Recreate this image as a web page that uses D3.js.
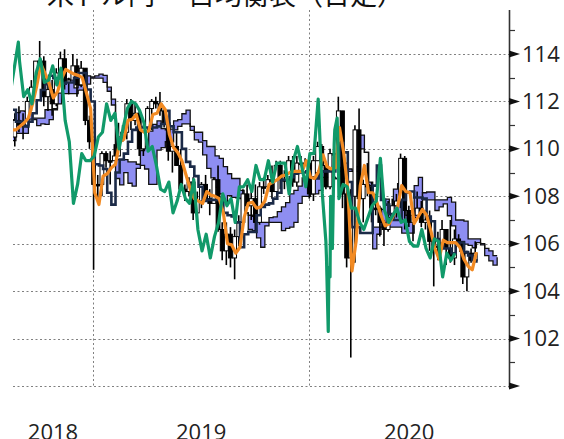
<!DOCTYPE html>
<html><head><meta charset="utf-8">
<script src="https://cdn.jsdelivr.net/npm/d3@7"></script>
<style>body{margin:0;background:#fff}svg{display:block}</style>
</head><body>
<script>
// ---- DATA (weekly, USD/JPY) ----
const titleText = "米ドル円 一目均衡表（日足）";
const yearLabels = ["2018", "2019", "2020"];
const yTickValues = [100, 102, 104, 106, 108, 110, 112, 114];
const yMinorValues = [101, 103, 105, 107, 109, 111, 113, 115];
const firstWeek = "2018-08-13";   // Monday of first candle week
const lastCloudWeek = "2020-11-09"; // Monday of last cloud week

const openV = [110.9,110.5,111.2,111.0,111.0,112.0,112.6,113.7,113.7,112.2,
 112.5,111.9,113.2,113.8,112.8,112.9,113.5,112.7,113.4,111.2,
 110.3,108.5,108.5,109.8,109.5,109.5,109.7,110.5,110.7,111.9,
 111.2,111.5,110.0,110.9,111.7,112.0,111.9,111.6,111.1,109.9,
 110.1,109.3,108.3,108.2,108.6,107.3,107.8,108.5,107.9,107.7,
 108.7,106.6,105.7,106.4,105.4,106.3,106.9,108.1,107.6,107.9,
 106.9,108.4,108.4,108.7,108.2,109.3,108.7,108.7,109.5,108.6,
 109.4,109.4,109.4,108.1,109.5,110.1,109.3,108.4,109.8,109.8,
 111.6,108.1,105.4,108.0,110.8,107.9,108.5,108.4,107.5,107.5,
 106.9,106.6,107.1,107.6,107.8,109.6,107.4,106.9,107.2,107.5,
 106.9,107.0,106.1,105.9,105.9,106.6,105.8,105.4,106.2,106.1,
 104.6,105.6,105.3];
const highV = [111.4,111.5,111.8,111.5,112.2,112.9,113.7,114.55,113.9,112.7,
 112.9,113.4,114.1,114.2,113.0,114.0,113.8,113.7,113.4,111.4,
 110.4,108.9,109.9,109.9,109.9,110.2,111.1,111.0,112.1,112.1,
 111.9,111.7,111.0,111.8,112.1,112.2,112.4,111.7,111.1,110.3,
 110.7,110.0,108.5,108.8,108.8,108.2,108.6,108.9,108.3,108.8,
 109.3,106.9,106.9,106.7,106.6,107.2,108.3,108.5,108.2,108.5,
 108.6,108.8,108.9,109.3,109.5,109.5,109.1,109.7,109.7,109.7,
 109.7,109.6,109.7,109.7,110.3,110.2,109.4,110.0,110.1,112.2,
 111.6,108.5,108.3,111.0,111.7,108.7,109.4,108.6,108.1,107.6,
 107.0,107.8,107.9,108.1,109.8,109.7,107.6,107.5,108.2,107.8,
 107.4,107.4,106.2,106.5,107.0,106.6,107.0,106.6,106.4,106.1,
 105.7,105.8,106.1];
const lowV = [110.1,110.1,110.7,110.4,110.9,111.6,112.6,113.6,111.8,111.6,
 111.4,111.8,112.9,112.5,112.3,112.9,112.2,112.6,111.0,110.0,
 104.9,107.8,108.0,109.2,108.5,109.5,109.7,110.3,110.4,110.8,
 111.0,109.7,109.7,110.8,110.8,111.7,111.4,110.9,109.5,109.0,
 109.3,108.3,107.8,108.0,107.0,106.8,107.5,107.8,107.2,107.7,
 106.5,105.3,105.1,105.0,104.5,105.9,106.9,107.5,107.0,106.5,
 106.8,108.1,108.3,107.9,108.2,108.3,108.3,108.7,108.4,108.4,
 109.3,109.3,107.9,107.8,109.5,109.2,108.3,108.3,109.6,109.8,
 107.5,105.0,101.2,105.2,107.9,106.9,108.0,106.9,107.2,106.3,
 105.9,106.5,107.0,107.1,107.5,106.6,106.7,106.1,107.2,106.7,
 106.6,105.7,104.2,105.3,105.8,105.1,105.2,105.1,105.9,104.3,
 104.0,105.2,105.3];
const closeV = [110.5,111.2,111.0,111.0,112.0,112.6,113.7,113.7,112.2,112.5,
 111.9,113.2,113.8,112.8,112.9,113.5,112.7,113.4,111.2,110.3,
 108.5,108.5,109.8,109.5,109.5,109.7,110.5,110.7,111.9,111.2,
 111.5,110.0,110.9,111.7,112.0,111.9,111.6,111.1,109.9,110.1,
 109.3,108.3,108.2,108.6,107.3,107.8,108.5,107.9,107.7,108.7,
 106.6,105.7,106.4,105.4,106.3,106.9,108.1,107.6,107.9,106.9,
 108.4,108.4,108.7,108.2,109.3,108.7,108.7,109.5,108.6,109.4,
 109.4,109.4,108.1,109.5,110.1,109.3,108.4,109.8,109.8,111.6,
 108.1,105.4,108.0,110.8,107.9,108.5,108.4,107.5,107.5,106.9,
 106.6,107.1,107.6,107.8,109.6,107.4,106.9,107.2,107.5,106.9,
 107.0,106.1,105.9,105.9,106.6,105.8,105.4,106.2,106.1,104.6,
 105.6,105.3,105.6];
// conversion line (orange)
const tenkanV = [110.8,110.8,110.95,111.1,111.3,111.9,112.65,113.58,113.18,112.75,
 112.15,112.4,112.95,113.35,113.25,113.15,113.1,113.0,112.35,111.7,
 108.15,107.65,108.85,108.95,109.2,109.35,110.3,110.4,111.2,111.25,
 111.45,110.8,110.7,110.75,111.45,111.5,111.9,111.65,110.6,110.05,
 109.85,109.5,108.9,108.3,107.9,107.8,107.7,108.2,108.05,108.0,
 107.9,107.3,106.0,105.95,105.6,105.85,107.1,107.7,107.75,107.5,
 107.55,107.8,108.5,108.6,108.7,108.85,108.9,109.0,109.05,109.05,
 109.05,109.5,108.8,108.75,109.05,109.75,109.25,109.15,109.2,110.9,
 109.85,108.3,104.85,106.1,108.45,109.3,108.15,108.15,107.75,107.2,
 106.75,106.85,107.2,107.55,108.45,108.2,108.15,106.85,107.15,107.45,
 107.2,106.55,105.8,105.35,106.15,106.05,106.05,106.05,105.85,105.35,
 105.05,104.9,105.65];
// base line (navy)
const kijunV = [111.65,111.15,111.15,110.95,111.15,111.5,112.05,112.48,112.73,113.08,
 112.98,112.98,112.75,112.8,112.8,113.0,113.2,113.2,112.5,112.0,
 109.35,109.3,109.15,108.15,107.65,109.0,109.55,109.8,110.3,110.8,
 110.9,110.9,110.9,110.9,110.9,110.95,111.05,111.6,110.95,110.7,
 110.7,110.0,109.45,109.25,108.85,108.4,107.8,107.85,107.85,107.85,
 107.9,107.3,107.2,107.15,106.9,105.85,106.4,106.5,106.5,107.2,
 107.55,107.65,107.7,107.9,108.15,108.7,108.7,108.8,108.95,109.0,
 109.0,109.05,108.8,108.75,109.05,109.05,109.05,109.05,109.3,110.25,
 109.85,108.6,106.7,106.7,106.45,106.45,106.45,108.45,109.3,107.85,
 107.65,107.25,107.0,107.0,107.85,108.15,108.2,107.95,107.95,107.9,
 107.15,106.95,106.2,106.0,105.8,105.8,105.6,106.05,106.05,105.65,
 105.5,105.3,105.2];
// leading spans (cloud), plotted weeks
const spanA = [111.23,111.53,111.6,111.58,111.53,111.23,110.98,111.05,111.03,111.23,
 111.7,112.35,113.03,112.95,112.92,112.57,112.69,112.85,113.08,113.03,
 113.08,113.15,113.1,112.43,111.85,108.75,108.48,109.0,108.55,108.43,
 109.18,109.93,110.1,110.75,111.03,111.18,110.85,110.8,110.83,111.18,
 111.23,111.48,111.63,110.78,110.38,110.28,109.75,109.18,108.78,108.38,
 108.1,107.75,108.03,107.95,107.93,107.9,107.3,106.6,106.55,106.25,
 105.85,106.75,107.1,107.13,107.35,107.55,107.73,108.1,108.25,108.43,
 108.78,108.8,108.9,109.0,109.03,109.03,109.28,108.8,108.75,109.05,
 109.4,109.15,109.1,109.25,110.58,109.85,108.45,105.78,106.4,107.45,
 107.88,107.3,108.3,108.53,107.53,107.2,107.05,107.1,107.28,108.15,
 108.18,108.18,107.4,107.55,107.68,107.18,106.75,106.0,105.68,105.98,
 105.93,105.83,106.05,105.95,105.5,105.28,105.1,105.43];
const spanB = [110.35,110.65,110.65,110.65,111.25,111.3,111.3,111.3,111.65,111.65,
 111.65,111.9,112.33,112.33,112.33,112.33,112.48,112.48,112.73,112.98,
 112.98,112.98,112.8,112.6,112.1,109.55,109.55,109.55,109.45,109.45,
 109.35,109.3,109.15,108.5,108.5,109.95,110.05,110.3,110.3,110.8,
 110.95,111.05,111.05,110.95,110.7,110.7,110.35,110.1,110.1,109.7,
 109.6,109.25,108.95,108.75,108.75,108.25,107.3,107.2,107.15,106.9,
 106.9,106.9,106.9,106.9,106.9,106.55,106.65,106.7,106.9,107.7,
 108.0,108.0,108.1,108.1,108.25,108.8,108.8,108.8,108.75,109.05,
 109.05,109.05,109.05,109.05,110.0,109.85,108.6,106.7,106.7,106.7,
 106.7,106.7,106.7,106.7,106.45,106.45,106.45,108.45,108.8,107.85,
 107.85,107.85,107.85,107.85,107.85,107.95,107.75,107.0,107.0,106.95,
 106.2,106.2,106.2,106.0,105.8,105.7,105.5,105.5];
// lagging span (green), weekly, plotted 26 days back
const chikouV = [112.6,113.7,113.7,112.2,112.5,111.9,113.2,113.8,112.8,112.9,
 113.5,112.7,113.4,111.2,110.3,107.7,108.5,109.8,109.5,109.5,
 109.7,110.5,110.7,111.9,111.2,111.5,110.0,110.9,111.7,112.0,
 111.9,111.6,111.1,109.9,110.1,109.3,108.3,108.2,108.6,107.3,
 107.8,108.5,107.9,107.7,108.7,106.6,105.7,106.4,105.4,106.3,
 106.9,108.1,107.6,107.9,106.9,108.4,108.4,108.7,108.2,109.3,
 108.7,108.7,109.5,108.6,109.4,109.4,109.4,108.1,109.5,110.1,
 109.3,108.4,109.8,109.8,112.1,108.1,105.4,108.0,110.8,107.9,
 108.5,108.4,107.5,107.5,106.9,106.6,107.1,107.6,107.8,109.6,
 107.4,106.9,107.2,107.5,106.9,107.0,106.1,105.9,105.9,106.6,
 105.8,105.4,106.2,106.1,104.6,105.6,105.3,105.6];
// extra daily lagging-span points (plot date, value)
const chikouDaily = [["2018-08-28",114.5],["2020-01-29",106.1],["2020-02-02",102.3],
 ["2020-02-03",105.0],["2020-02-05",104.6],["2020-02-09",105.8],["2020-02-12",110.2],
 ["2020-02-17",111.3],["2020-02-19",109.6]];

// ---- CHART ----
const W = 564, H = 439;
const parse = d3.timeParse("%Y-%m-%d");
const svg = d3.select("body").append("svg").attr("width", W).attr("height", H)
  .style("font-family", "'Open Sans', 'Noto Sans', sans-serif");

const x = d3.scaleTime().domain([new Date(2018,7,19), new Date(2020,11,3)]).range([13, 509]);
const y = d3.scaleLinear().domain([100, 114]).range([386, 54]);

const weeks = d3.timeMonday.range(parse(firstWeek), d3.timeDay.offset(parse(lastCloudWeek), 1));
const nC = closeV.length;
const candles = d3.range(nC).map(i => ({d: d3.timeDay.offset(weeks[i], 2), o: openV[i], h: highV[i], l: lowV[i], c: closeV[i]}));
const tenkan = d3.range(nC).map(i => ({d: d3.timeDay.offset(weeks[i], 4), v: tenkanV[i]}));
const kijun = d3.range(nC).map(i => ({d: d3.timeDay.offset(weeks[i], 4), v: kijunV[i]}));
const cloud = spanA.map((a, i) => ({d: d3.timeDay.offset(weeks[i], 4), a: a, b: spanB[i]}));
const chikou = chikouV.map((v, i) => ({d: d3.timeDay.offset(weeks[i], 3), v: v}))
  .concat(chikouDaily.map(p => ({d: parse(p[0]), v: p[1]})))
  .sort((p, q) => p.d - q.d);

// title (mostly cut off at top)
svg.append("text").attr("x", 404).attr("y", 5).attr("text-anchor", "end")
  .attr("font-family", "'Noto Sans CJK JP', sans-serif").attr("font-size", 27)
  .attr("fill", "#111").text(titleText);

// grid
const grid = svg.append("g");
grid.selectAll("line.h").data(yTickValues).join("line")
  .attr("x1", 13).attr("x2", 509)
  .attr("y1", d => Math.round(y(d)) + 0.5).attr("y2", d => Math.round(y(d)) + 0.5)
  .attr("stroke", "#808080").attr("stroke-width", 1).attr("stroke-dasharray", "2,2.5");
const yearStarts = [new Date(2019,0,1), new Date(2020,0,1)];
grid.selectAll("line.v").data(yearStarts).join("line")
  .attr("x1", d => Math.round(x(d)) + 0.5).attr("x2", d => Math.round(x(d)) + 0.5)
  .attr("y1", 10).attr("y2", 388)
  .attr("stroke", "#808080").attr("stroke-width", 1).attr("stroke-dasharray", "2,2.5");

// clip
svg.append("defs").append("clipPath").attr("id", "plot")
  .append("rect").attr("x", 13).attr("y", 8).attr("width", 496).attr("height", 380);
const plot = svg.append("g").attr("clip-path", "url(#plot)");

// cloud
plot.append("path").datum(cloud)
  .attr("d", d3.area().curve(d3.curveStepAfter).x(d => x(d.d)).y0(d => y(d.a)).y1(d => y(d.b)))
  .attr("fill", "#8e8ef2");
["a", "b"].forEach(k => {
  plot.append("path").datum(cloud)
    .attr("d", d3.line().curve(d3.curveStepAfter).x(d => x(d.d)).y(d => y(d[k])))
    .attr("fill", "none").attr("stroke", "#111").attr("stroke-width", 1.3);
});

// candles
const cg = plot.append("g");
cg.selectAll("line").data(candles).join("line")
  .attr("x1", d => x(d.d)).attr("x2", d => x(d.d))
  .attr("y1", d => y(d.h)).attr("y2", d => y(d.l))
  .attr("stroke", "#000").attr("stroke-width", 1.6);
cg.selectAll("rect").data(candles).join("rect")
  .attr("x", d => x(d.d) - 1.9).attr("width", 3.8)
  .attr("y", d => y(Math.max(d.o, d.c)))
  .attr("height", d => Math.max(1.5, Math.abs(y(d.o) - y(d.c))))
  .attr("fill", d => d.c > d.o ? "#fff" : "#000")
  .attr("stroke", "#000").attr("stroke-width", 1);

// base line
plot.append("path").datum(kijun)
  .attr("d", d3.line().curve(d3.curveStepAfter).x(d => x(d.d)).y(d => y(d.v)))
  .attr("fill", "none").attr("stroke", "#1b2a47").attr("stroke-width", 2.6);
// conversion line
plot.append("path").datum(tenkan)
  .attr("d", d3.line().x(d => x(d.d)).y(d => y(d.v)))
  .attr("fill", "none").attr("stroke", "#f28a22").attr("stroke-width", 3.2)
  .attr("stroke-linejoin", "round");
// lagging span
plot.append("path").datum(chikou)
  .attr("d", d3.line().x(d => x(d.d)).y(d => y(d.v)))
  .attr("fill", "none").attr("stroke", "#119a6a").attr("stroke-width", 3.2)
  .attr("stroke-linejoin", "round");

// right axis
const ax = svg.append("g");
ax.append("line").attr("x1", 509.5).attr("x2", 509.5).attr("y1", 10).attr("y2", 388)
  .attr("stroke", "#333").attr("stroke-width", 1.6);
ax.selectAll("path.tri").data(yTickValues).join("path")
  .attr("d", d => { const yy = y(d); return `M509,${yy-3.5}L520,${yy}L509,${yy+3.5}Z`; })
  .attr("fill", "#111");
ax.selectAll("line.minor").data(yMinorValues).join("line")
  .attr("x1", 509).attr("x2", 515)
  .attr("y1", d => Math.round(y(d)) + 0.5).attr("y2", d => Math.round(y(d)) + 0.5)
  .attr("stroke", "#333").attr("stroke-width", 1.2);
const yAxis = d3.axisRight(y).tickValues(yTickValues.filter(v => v > 100))
  .tickSize(0).tickPadding(13).tickFormat(d3.format("d"));
const yg = svg.append("g").attr("transform", "translate(509,0)").call(yAxis);
yg.select(".domain").remove();
yg.selectAll("text").attr("font-size", 22).attr("fill", "#222")
  .attr("font-family", "'Open Sans', sans-serif");

// year labels (centered in each year segment)
const bounds = [x.domain()[0], yearStarts[0], yearStarts[1], x.domain()[1]];
svg.selectAll("text.year").data(yearLabels).join("text")
  .attr("x", (d, i) => (x(bounds[i]) + x(bounds[i+1])) / 2)
  .attr("y", 440).attr("text-anchor", "middle")
  .attr("font-size", 22).attr("fill", "#222").text(d => d);
</script>
</body></html>
